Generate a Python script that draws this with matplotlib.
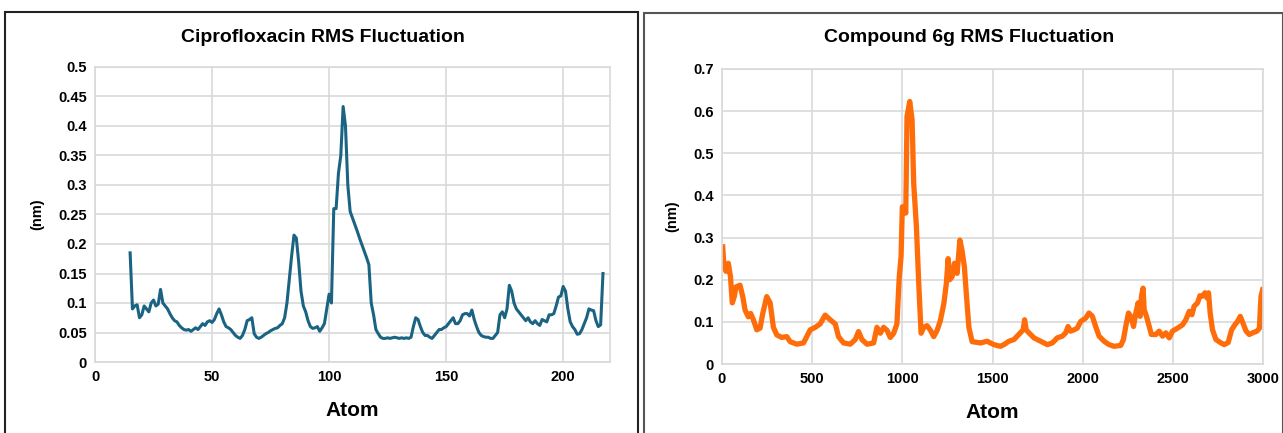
import matplotlib
matplotlib.use('Agg')
import matplotlib.pyplot as plt
from matplotlib.patches import Rectangle

plt.rcParams['font.family'] = ['Liberation Sans', 'DejaVu Sans']

# Ciprofloxacin RMSF (atom index, nm)
cipro_atom = list(range(15, 218))
cipro_rmsf = [
    0.185, 0.090, 0.095, 0.097, 0.075, 0.080, 0.095, 0.090, 0.085, 0.100,
    0.105, 0.095, 0.098, 0.123, 0.100, 0.095, 0.090, 0.082, 0.075, 0.070,
    0.068, 0.062, 0.058, 0.055, 0.054, 0.055, 0.052, 0.055, 0.058, 0.055,
    0.060, 0.065, 0.062, 0.068, 0.070, 0.067, 0.072, 0.082, 0.090, 0.080,
    0.068, 0.060, 0.058, 0.055, 0.050, 0.045, 0.042, 0.040, 0.045, 0.055,
    0.070, 0.072, 0.075, 0.048, 0.042, 0.040, 0.042, 0.045, 0.048, 0.050,
    0.053, 0.055, 0.057, 0.058, 0.062, 0.065, 0.075, 0.100, 0.140, 0.180,
    0.215, 0.210, 0.170, 0.120, 0.095, 0.085, 0.070, 0.060, 0.057, 0.058,
    0.060, 0.052, 0.058, 0.065, 0.090, 0.115, 0.100, 0.260, 0.260, 0.320,
    0.350, 0.433, 0.400, 0.300, 0.255, 0.244, 0.233, 0.222, 0.210, 0.199,
    0.188, 0.177, 0.165, 0.100, 0.080, 0.055, 0.048, 0.042, 0.040, 0.040,
    0.041, 0.040, 0.041, 0.042, 0.041, 0.040, 0.041, 0.040, 0.041,
    0.040, 0.042, 0.060, 0.075, 0.072, 0.060, 0.050, 0.045, 0.045, 0.042,
    0.040, 0.045, 0.050, 0.055, 0.055, 0.058, 0.060, 0.065, 0.070, 0.075,
    0.065, 0.065, 0.070, 0.080, 0.082, 0.082, 0.078, 0.088, 0.072, 0.060,
    0.050, 0.045, 0.043, 0.042, 0.042, 0.040, 0.040, 0.045, 0.050, 0.080,
    0.085, 0.075, 0.090, 0.130, 0.120, 0.100, 0.090, 0.085, 0.080, 0.075,
    0.070, 0.075, 0.068, 0.065, 0.070, 0.065, 0.062, 0.072, 0.070, 0.068,
    0.080, 0.080, 0.082, 0.095, 0.110, 0.112, 0.128, 0.120, 0.090, 0.068,
    0.060, 0.055, 0.047, 0.048, 0.055, 0.065, 0.075, 0.090, 0.088, 0.087,
    0.070, 0.060, 0.063, 0.150,
]

# Compound 6g RMSF (atom index, nm)
cmpd_atom = [
    4, 11, 22, 35, 47, 57, 68, 78, 100, 115, 128, 146, 159, 174, 193, 211,
    226, 248, 267, 285, 304, 331, 359, 378, 415, 452, 470, 489, 517, 544,
    572, 600, 628, 646, 674, 711, 739, 757, 776, 804, 841, 859, 878, 896,
    915, 933, 952, 970, 983, 993, 1000, 1011, 1019, 1026, 1041, 1054, 1063,
    1078, 1091, 1104, 1119, 1137, 1156, 1174, 1193, 1211, 1230, 1244, 1254,
    1263, 1276, 1289, 1304, 1319, 1331, 1344, 1356, 1369, 1387, 1433, 1470,
    1507, 1544, 1563, 1591, 1619, 1646, 1670, 1678, 1687, 1702, 1730, 1767,
    1804, 1832, 1859, 1887, 1906, 1919, 1933, 1952, 1970, 1989, 2017, 2035,
    2054, 2072, 2091, 2119, 2146, 2174, 2211, 2226, 2239, 2254, 2267, 2282,
    2295, 2307, 2319, 2326, 2335, 2341, 2354, 2369, 2381, 2406, 2424, 2443,
    2461, 2480, 2498, 2526, 2554, 2572, 2591, 2606, 2618, 2637, 2650, 2665,
    2678, 2689, 2698, 2707, 2720, 2739, 2767, 2785, 2807, 2826, 2844, 2859,
    2874, 2889, 2906, 2924, 2943, 2967, 2980, 2989, 2998,
]
cmpd_rmsf = [
    0.278, 0.231, 0.220, 0.239, 0.207, 0.145, 0.160, 0.183, 0.187, 0.160,
    0.128, 0.112, 0.120, 0.105, 0.081, 0.085, 0.120, 0.160, 0.145, 0.087,
    0.069, 0.063, 0.065, 0.053, 0.047, 0.050, 0.065, 0.081, 0.087, 0.095,
    0.116, 0.105, 0.095, 0.065, 0.050, 0.047, 0.058, 0.077, 0.058, 0.047,
    0.050, 0.087, 0.073, 0.087, 0.080, 0.063, 0.073, 0.095, 0.207, 0.255,
    0.373, 0.373, 0.358, 0.587, 0.623, 0.580, 0.429, 0.326, 0.191, 0.073,
    0.087, 0.091, 0.080, 0.065, 0.080, 0.103, 0.143, 0.191, 0.250, 0.200,
    0.207, 0.239, 0.215, 0.294, 0.270, 0.231, 0.160, 0.087, 0.053, 0.050,
    0.054, 0.046, 0.042, 0.046, 0.054, 0.058, 0.070, 0.081, 0.105, 0.081,
    0.074, 0.062, 0.054, 0.046, 0.050, 0.062, 0.066, 0.074, 0.089, 0.078,
    0.081, 0.085, 0.101, 0.109, 0.121, 0.113, 0.089, 0.066, 0.054, 0.046,
    0.042, 0.044, 0.058, 0.089, 0.121, 0.113, 0.089, 0.121, 0.145, 0.113,
    0.161, 0.180, 0.129, 0.113, 0.089, 0.070, 0.070, 0.078, 0.066, 0.074,
    0.062, 0.078, 0.085, 0.093, 0.105, 0.125, 0.117, 0.137, 0.145, 0.162,
    0.161, 0.169, 0.157, 0.169, 0.121, 0.081, 0.058, 0.050, 0.046, 0.051,
    0.081, 0.093, 0.101, 0.113, 0.097, 0.078, 0.070, 0.074, 0.078, 0.085,
    0.161, 0.176,
]

fig = plt.figure(figsize=(12.83, 4.33), dpi=100)

# panel frames
fig.patches.append(Rectangle((5 / 1283, -0.01), 633 / 1283, 1 - 12 / 433 + 0.01,
                             transform=fig.transFigure, fill=False,
                             edgecolor='#222222', linewidth=1.5))
fig.patches.append(Rectangle((644 / 1283, -0.01), 639 / 1283, 1 - 13 / 433 + 0.01,
                             transform=fig.transFigure, fill=False,
                             edgecolor='#555555', linewidth=1.5))


def style_axes(ax):
    ax.grid(True, color='#d9d9d9', linewidth=1.2)
    ax.set_axisbelow(True)
    for s in ax.spines.values():
        s.set_color('#d9d9d9')
        s.set_linewidth(1.2)
    ax.tick_params(length=0, labelsize=10.5, pad=6)
    for lbl in ax.get_xticklabels() + ax.get_yticklabels():
        lbl.set_fontweight('bold')
    ax.set_xlabel('Atom', fontsize=15, fontweight='bold', labelpad=12)
    ax.set_ylabel('(nm)', fontsize=10.5, fontweight='bold', labelpad=10)


ax1 = fig.add_axes([95 / 1283, 71 / 433, 515 / 1283, 295 / 433])
ax1.plot(cipro_atom, cipro_rmsf, color='#1b6383', linewidth=2.2)
ax1.set_xlim(0, 220)
ax1.set_ylim(0, 0.5)
ax1.set_xticks([0, 50, 100, 150, 200])
ax1.set_yticks([0, 0.05, 0.1, 0.15, 0.2, 0.25, 0.3, 0.35, 0.4, 0.45, 0.5])
ax1.set_yticklabels(['0', '0.05', '0.1', '0.15', '0.2', '0.25', '0.3',
                     '0.35', '0.4', '0.45', '0.5'])
style_axes(ax1)
fig.text(323 / 1283, 1 - 37 / 433, 'Ciprofloxacin RMS Fluctuation',
         ha='center', va='center', fontsize=14, fontweight='bold')

ax2 = fig.add_axes([722 / 1283, 69 / 433, 541 / 1283, 295 / 433])
ax2.plot(cmpd_atom, cmpd_rmsf, color='#ff6d0a', linewidth=3.8,
         solid_joinstyle='round')
ax2.set_xlim(0, 3000)
ax2.set_ylim(0, 0.7)
ax2.set_xticks([0, 500, 1000, 1500, 2000, 2500, 3000])
ax2.set_yticks([0, 0.1, 0.2, 0.3, 0.4, 0.5, 0.6, 0.7])
ax2.set_yticklabels(['0', '0.1', '0.2', '0.3', '0.4', '0.5', '0.6', '0.7'])
style_axes(ax2)
fig.text(969 / 1283, 1 - 38 / 433, 'Compound 6g RMS Fluctuation',
         ha='center', va='center', fontsize=14, fontweight='bold')

fig.savefig('out.png', dpi=100)
